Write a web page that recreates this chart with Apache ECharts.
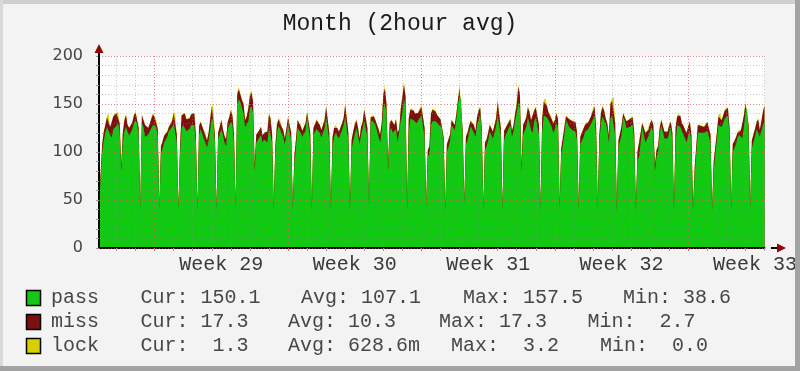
<!DOCTYPE html>
<html><head><meta charset="utf-8">
<script src="https://cdn.jsdelivr.net/npm/echarts@6/dist/echarts.min.js"></script>
<style>html,body{margin:0;padding:0;background:#f3f3f3}#c{width:800px;height:371px}</style>
</head><body><div id="c"></div>
<script>
// ---------------- data ----------------
const chartTitle = 'Month (2hour avg)';
const firstPointHour = 4802;   // centre of first 2-hour bin (hours counted from week 0)
const stepHours = 2;
const axisMinHour = 4802;
const axisMaxHour = 5640;
const weekNumbers = [29, 30, 31, 32, 33];
const yTickLabels = [0, 50, 100, 150, 200];
const seriesNames = ['pass', 'miss', 'lock'];

// 35 days x 12 two-hour values
const pass = [
 43,42,100,112,120,126,125,118,115,124,126,127,
 130,122,80,110,122,126,121,117,119,124,130,133,
 130,118,41,130,126,116,114,118,120,125,128,126,
 126,116,40,98,104,110,112,116,122,122,126,130,
 128,110,39,99,125,128,126,122,121,124,128,126,
 128,110,39,118,124,122,114,112,105,112,124,135,
 132,110,39,114,118,124,118,110,106,124,128,131,
 128,110,42,150,155,152,146,140,126,128,132,145,
 148,140,80,110,112,115,118,110,113,112,110,125,
 125,110,40,100,120,127,124,119,116,108,106,130,
 128,112,41,88,105,125,123,120,116,114,122,137,
 135,112,39,118,121,124,126,120,115,117,125,136,
 135,112,40,105,116,120,118,114,112,123,128,137,
 138,112,40,103,111,118,125,118,108,118,125,132,
 130,115,45,130,133,132,128,126,116,110,122,145,
 150,140,80,122,125,120,118,124,110,112,133,140,
 156,145,41,120,135,134,133,131,130,133,131,138,
 136,115,43,95,98,128,132,133,132,130,128,126,
 125,108,39,100,105,112,128,130,123,134,150,157.5,
 155,115,46,108,112,120,127,126,120,116,128,133,
 140,118,40,102,106,112,121,119,114,120,127,138,
 140,118,40,112,118,121,125,128,116,122,133,140,
 152,145,80,118,120,126,136,130,123,120,132,136,
 136,118,40,120,138,140,136,133,130,126,120,124,
 130,125,42,96,98,118,133,132,126,125,123,121,
 121,112,40,108,112,115,121,123,124,123,130,134,
 138,115,41,110,130,137,133,130,124,110,135,138,
 140,118,38.6,105,106,118,136,133,125,123,126,127,
 128,112,39,92,95,110,126,124,110,112,117,122,
 126,120,80,95,100,118,128,126,114,112,114,120,
 126,112,40,110,128,127,126,122,120,114,110,118,
 122,110,39,75,76,120,121,120,121,120,121,122,
 122,110,39,80,98,112,128,130,126,127,135,137,
 138,118,40,100,102,108,115,118,116,114,126,140,
 146,118,42,104,110,116,124,126,116,114,128,132
];
const miss = [
 3,3,8,9,8,10,13,8,9,13,13,13,
 10,8,6,10,11,12,7,8,8,7,8,8,
 10,7,3,8,7,12,12,7,6,10,11,10,
 8,8,3,8,7,7,7,5,4,6,6,10,
 10,8,3,8,13,12,14,12,12,11,11,14,
 12,8,3,9,7,8,8,8,7,8,10,12,
 13,8,3,6,8,9,6,7,7,7,8,12,
 10,8,3,10,10,8,8,10,7,9,13,13,
 14,12,6,8,8,8,8,7,7,8,11,14,
 10,8,3,6,8,7,8,7,7,6,6,6,
 9,8,3,8,8,8,7,7,6,7,8,4,
 6,8,3,7,6,9,8,8,8,7,8,11,
 12,8,3,10,9,7,7,7,7,7,7,12,
 11,8,3,9,10,10,8,8,6,8,6,12,
 14,10,3,6,4,5,5,6,8,8,8,15,
 16,10,6,8,8,11,10,10,10,12,12,17.3,
 14,13,3,15,9,11,10,9,8,8,11,9,
 10,10,3,7,8,12,12,11,10,8,8,8,
 7,7,3,8,8,6,5,4,5,6,4,9,
 11,7,3,8,8,7,5,5,8,6,8,10,
 6,7,3,8,7,8,7,8,7,8,8,14,
 14,7,3,10,7,7,6,6,6,6,7,10,
 16,15,6,10,10,10,10,12,10,12,11,10,
 10,10,3,15,14,14,12,8,9,8,10,9,
 10,9,3,8,8,8,4,5,8,9,9,11,
 10,8,3,8,8,6,7,7,7,7,8,9,
 9,10,3,8,10,10,10,5,6,7,15,15,
 15,12,4,7,8,9,4,6,7,7,8,8,
 8,8,3,8,7,10,4,5,10,10,6,8,
 7,8,6,7,6,7,5,7,7,9,7,8,
 5,8,3,15,9,12,12,8,7,9,10,9,
 9,8,3,8,8,8,8,7,7,6,6,9,
 8,8,2.7,10,7,8,9,9,7,5,8,8,
 8,7,3,8,8,7,5,4,6,9,12,10,
 4,10,3,8,8,8,7,8,7,7,14,16
];
const lock = [
 0.5,0.6,0.3,0.4,0.5,1.2,2.0,0.4,0.3,0.8,1.4,1.8,
 1.5,0.4,0.2,0.3,0.9,1.6,0.4,0.3,0.4,0.6,1.1,1.9,
 1.6,0.3,0.8,1.5,0.5,0.3,0.2,0.4,0.6,1.0,1.7,0.9,
 0.6,0.3,1.2,0.3,0.4,0.5,0.3,0.6,0.9,0.7,1.0,2.1,
 1.7,0.3,0.9,0.4,1.4,1.1,0.8,0.5,0.4,0.6,0.9,1.6,
 1.2,0.3,1.1,0.8,1.3,0.7,0.4,0.3,0.2,0.4,1.2,2.2,
 1.8,0.3,1.0,0.6,0.5,1.3,0.4,0.3,0.2,0.7,1.0,2.0,
 1.4,0.4,0.7,1.6,2.6,1.4,0.9,0.8,0.4,0.6,1.2,2.3,
 2.4,1.0,0.2,0.5,0.6,0.8,0.9,0.3,0.4,0.5,0.6,1.8,
 1.3,0.3,1.2,0.4,0.9,1.5,0.8,0.5,0.4,0.3,0.2,1.6,
 1.4,0.3,0.9,0.3,0.4,1.3,1.0,0.7,0.4,0.3,0.8,1.7,
 1.6,0.3,1.1,0.7,0.6,1.2,1.4,0.6,0.3,0.4,0.9,2.0,
 1.9,0.3,1.3,0.4,0.7,1.0,0.6,0.4,0.3,0.8,1.1,2.2,
 2.0,0.3,1.2,0.3,0.6,0.9,1.5,0.6,0.2,0.5,1.0,2.1,
 1.7,0.5,1.4,1.2,1.6,1.3,0.8,0.7,0.4,0.3,0.8,2.6,
 2.8,1.0,0.2,0.6,1.0,0.7,0.6,1.1,0.4,0.5,1.4,2.5,
 3.0,1.2,1.0,0.8,1.6,1.5,1.2,0.9,0.8,1.1,1.0,1.9,
 1.5,0.4,1.3,0.3,0.4,1.0,1.4,1.6,1.2,0.9,0.7,0.6,
 0.8,0.3,0.7,0.4,0.5,0.6,1.2,1.3,0.6,1.0,1.8,3.2,
 2.6,0.4,1.1,0.4,0.6,0.8,1.3,1.1,0.5,0.4,1.0,1.6,
 1.2,0.3,1.0,0.3,0.4,0.6,1.1,0.9,0.5,0.8,1.2,2.4,
 2.2,0.3,1.2,0.6,0.8,1.0,1.3,1.5,0.4,0.7,1.4,2.0,
 2.7,1.3,0.2,0.6,0.8,1.1,1.8,1.2,0.7,0.6,1.3,1.6,
 1.5,0.4,0.9,0.8,2.0,2.3,1.4,1.0,0.9,0.7,0.4,0.9,
 1.4,0.6,1.3,0.3,0.4,0.7,1.6,1.5,0.9,0.8,0.7,0.6,
 0.9,0.3,1.1,0.5,0.7,0.6,1.0,1.2,1.3,1.0,1.6,2.0,
 2.1,0.4,1.2,0.5,1.4,2.0,1.3,0.8,0.5,0.3,1.8,2.4,
 2.5,0.5,0.6,0.4,0.5,0.9,1.7,1.3,0.8,0.7,1.0,1.2,
 1.1,0.3,1.0,0.3,0.3,0.6,1.5,1.2,0.4,0.5,0.8,1.1,
 1.4,0.6,0.2,0.3,0.4,0.9,1.6,1.3,0.5,0.4,0.6,1.0,
 1.3,0.3,1.2,0.6,1.4,1.6,1.2,0.8,0.7,0.5,0.3,0.9,
 1.2,0.3,1.1,0.5,0.6,0.9,1.0,0.8,0.9,0.7,0.8,1.1,
 1.0,0.3,0.9,0.4,0.3,0.6,1.4,1.6,0.8,0.9,1.5,1.9,
 2.1,0.4,1.2,0.3,0.4,0.5,0.7,0.9,0.8,0.6,1.3,2.4,
 2.3,0.4,1.0,0.3,0.5,0.8,1.1,1.2,0.6,0.5,1.6,1.3
];
const legendCur = ['Cur: 150.1', 'Cur: 17.3', 'Cur:  1.3'];
const legendAvg = ['Avg: 107.1', 'Avg: 10.3', 'Avg: 628.6m'];
const legendMax = ['Max: 157.5', 'Max: 17.3', 'Max:  3.2'];
const legendMin = ['Min: 38.6', 'Min:  2.7', 'Min:  0.0'];

// ---------------- layout / style ----------------
const colors = ['#12c812', '#7c0f0f', '#d6d000'];
const HOURS_WEEK = 168, HOURS_DAY = 24;
const dayTicks = [];
for (let h = Math.ceil(axisMinHour / HOURS_DAY) * HOURS_DAY; h <= axisMaxHour; h += HOURS_DAY) dayTicks.push(h);
const weekStarts = weekNumbers.map(n => n * HOURS_WEEK);
const weekCenters = weekNumbers.map(n => n * HOURS_WEEK + HOURS_WEEK / 2);

// cumulative (stacked) tops, computed from the data arrays
const passTop = pass.slice();
const missTop = pass.map((v, i) => v + miss[i]);
const lockTop = missTop.map((v, i) => v + lock[i]);
const stackedTops = [passTop, missTop, lockTop];

function toPoints(arr) {
  return arr.map((v, i) => [firstPointHour + stepHours * i, v]);
}

const monoFont = 'Liberation Mono';
const legendRowsY = [298, 322, 346];
const colX = {
  name: [51, 51, 51],
  cur: [140.5, 140.5, 140.5],
  avg: [301, 288, 288],
  max: [463, 439, 451],
  min: [623, 587.5, 600]
};
const graphics = [];
// frame
graphics.push({type: 'rect', shape: {x: 0, y: 0, width: 800, height: 4}, style: {fill: '#cfcfcf'}, z: 100});
graphics.push({type: 'rect', shape: {x: 0, y: 0, width: 3, height: 371}, style: {fill: '#d9d9d9'}, z: 100});
graphics.push({type: 'rect', shape: {x: 795, y: 0, width: 5, height: 371}, style: {fill: '#a3a3a3'}, z: 100});
graphics.push({type: 'rect', shape: {x: 0, y: 366, width: 800, height: 5}, style: {fill: '#a3a3a3'}, z: 100});
// axis extensions + arrows
graphics.push({type: 'line', shape: {x1: 99, y1: 57, x2: 99, y2: 50}, style: {stroke: '#000', lineWidth: 2}, z: 50});
graphics.push({type: 'polygon', shape: {points: [[94.5, 53], [103.5, 53], [99, 44]]}, style: {fill: '#8a0a0a'}, z: 50});
graphics.push({type: 'line', shape: {x1: 771, y1: 248, x2: 779, y2: 248}, style: {stroke: '#000', lineWidth: 2}, z: 50});
graphics.push({type: 'polygon', shape: {points: [[777, 243.5], [777, 252.5], [786, 248]]}, style: {fill: '#8a0a0a'}, z: 50});
// legend
seriesNames.forEach((name, r) => {
  const y = legendRowsY[r];
  graphics.push({type: 'rect', shape: {x: 26.5, y: y - 7.5, width: 14, height: 15}, style: {fill: colors[r], stroke: '#000', lineWidth: 1.5}, z: 50});
  const items = [[name, colX.name[r]], [legendCur[r], colX.cur[r]], [legendAvg[r], colX.avg[r]], [legendMax[r], colX.max[r]], [legendMin[r], colX.min[r]]];
  items.forEach(([t, x]) => {
    graphics.push({type: 'text', x: x, y: y, style: {text: t, fill: '#474747', font: '20px "' + monoFont + '"', textVerticalAlign: 'middle', textAlign: 'left'}, z: 50});
  });
});

// draw the tallest (cumulative) area first so the lower layers sit on top of it
const drawOrder = [2, 1, 0];

const chart = echarts.init(document.getElementById('c'), null, {renderer: 'canvas', width: 800, height: 371});
chart.setOption({
  backgroundColor: '#f3f3f3',
  animation: false,
  title: {
    text: chartTitle, left: 'center', top: 7,
    textStyle: {fontFamily: monoFont, fontSize: 23, fontWeight: 'normal', color: '#1a1a1a'}
  },
  grid: {left: 99, right: 28, top: 56, bottom: 123, show: true, backgroundColor: '#ffffff', borderWidth: 0},
  xAxis: [
    {
      type: 'value', position: 'bottom', min: axisMinHour, max: axisMaxHour, z: 5,
      axisLine: {show: true, lineStyle: {color: '#000', width: 2}},
      axisTick: {show: true, customValues: dayTicks, length: 3, lineStyle: {color: '#999'}},
      splitLine: {show: true, lineStyle: {color: 'rgba(140,140,140,0.45)', type: [1, 2]}},
      axisLabel: {
        show: true, customValues: weekCenters, margin: 7,
        formatter: v => 'Week ' + Math.floor(v / HOURS_WEEK),
        fontFamily: monoFont, fontSize: 20, color: '#3a3a3a'
      }
    },
    {
      type: 'value', position: 'bottom', min: axisMinHour, max: axisMaxHour, z: 6,
      axisLine: {show: false},
      axisTick: {show: true, customValues: weekStarts, length: 3, lineStyle: {color: '#f06060'}},
      splitLine: {show: true, lineStyle: {color: 'rgba(255,80,80,0.55)', type: [1, 2]}},
      axisLabel: {show: false}
    }
  ],
  yAxis: [
    {
      type: 'value', min: 0, max: 200, interval: 10, z: 5,
      axisLine: {show: true, lineStyle: {color: '#000', width: 2}},
      axisTick: {show: true, length: 3, lineStyle: {color: '#999'}},
      splitLine: {show: true, lineStyle: {color: 'rgba(140,140,140,0.45)', type: [1, 2]}},
      axisLabel: {
        margin: 16, fontFamily: 'DejaVu Sans', fontSize: 16, color: '#444',
        formatter: v => (yTickLabels.indexOf(v) >= 0 ? String(v) : '')
      }
    },
    {
      type: 'value', position: 'left', min: 0, max: 200, interval: 50, z: 6,
      axisLine: {show: false}, axisTick: {show: false}, axisLabel: {show: false},
      splitLine: {show: true, lineStyle: {color: 'rgba(255,80,80,0.55)', type: [1, 2]}}
    }
  ],
  series: drawOrder.map(k => ({
    name: seriesNames[k], type: 'line',
    showSymbol: false, symbol: 'none', z: 2,
    lineStyle: {width: 0},
    itemStyle: {color: colors[k]},
    areaStyle: {color: colors[k], opacity: 1, origin: 'start'},
    data: toPoints(stackedTops[k])
  })),
  graphic: graphics
});
</script></body></html>
